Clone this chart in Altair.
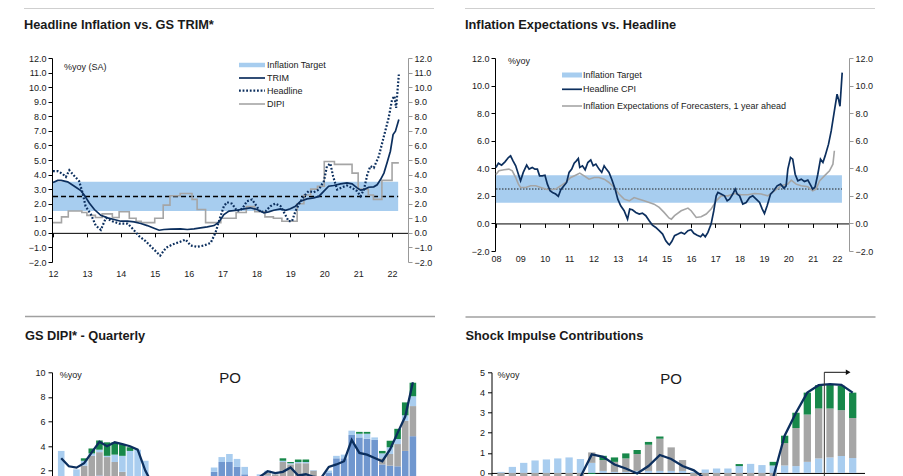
import altair as alt
import pandas as pd

# ---------------- colours / fonts ----------------
NAVY = "#0c2f5e"
BAND = "#a7cdef"
GRAYL = "#a5a5a5"
GREEN = "#17884a"
MIDBLUE = "#7097cf"
LBLUE = "#a9cdef"
BARGRAY = "#a6a6a6"
SEP = "#a0a0a0"
FONT = "Liberation Sans, Arial, sans-serif"
TFONT = "Liberation Sans, Arial, sans-serif"
TSIZE = 12.8

# ---------------- panel 1 data : Headline Inflation vs. GS TRIM* ----------------
trim_t = [2012.0, 2012.14, 2012.24, 2012.43, 2012.63, 2012.82, 2012.92,
          2013.07, 2013.22, 2013.41, 2013.61, 2013.8,
          2014.0, 2014.2, 2014.39, 2014.59, 2014.78, 2014.98,
          2015.13, 2015.27, 2015.47, 2015.76, 2015.96,
          2016.16, 2016.35, 2016.55, 2016.75, 2016.89,
          2017.04, 2017.19, 2017.43, 2017.63, 2017.82,
          2018.02, 2018.22, 2018.36, 2018.51, 2018.71, 2018.86,
          2019.0, 2019.15, 2019.3, 2019.49, 2019.69, 2019.84, 2019.99,
          2020.13, 2020.28, 2020.48, 2020.67, 2020.82, 2020.97,
          2021.07, 2021.17, 2021.31, 2021.46, 2021.56, 2021.66, 2021.76, 2021.85, 2021.95,
          2022.03, 2022.1, 2022.2]
trim_v = [3.45, 3.6, 3.6, 3.5, 3.2, 2.9, 2.6,
          2.05, 1.6, 1.2, 1.03, 0.92,
          0.8, 0.8, 0.75, 0.64, 0.5, 0.32,
          0.18, 0.23, 0.25, 0.27, 0.23,
          0.27, 0.34, 0.41, 0.5, 0.73,
          1.26, 1.49, 1.55, 1.65, 1.72,
          1.6, 1.37, 1.44, 1.55, 1.65, 1.55,
          1.65, 1.83, 2.17, 2.33, 2.4, 2.5, 2.86,
          3.2, 3.25, 3.36, 3.43, 3.36, 3.09,
          2.93, 2.97, 3.13, 3.16, 3.3, 3.66, 4.1, 4.8, 5.6,
          6.75, 6.98, 7.78]
hl_t = [2012.0, 2012.14, 2012.28, 2012.38, 2012.48, 2012.63, 2012.77, 2012.87, 2012.96,
        2013.12, 2013.26, 2013.41, 2013.56, 2013.75, 2013.95,
        2014.2, 2014.37, 2014.54, 2014.73, 2014.93,
        2015.16, 2015.33, 2015.52, 2015.72, 2015.91,
        2016.06, 2016.25, 2016.45, 2016.65, 2016.79, 2016.94,
        2017.04, 2017.13, 2017.28, 2017.43, 2017.58, 2017.72, 2017.87, 2017.97,
        2018.12, 2018.27, 2018.41, 2018.56, 2018.71, 2018.83, 2018.95,
        2019.05, 2019.15, 2019.25, 2019.4, 2019.54, 2019.69, 2019.84, 2019.99,
        2020.08, 2020.18, 2020.26, 2020.38, 2020.53, 2020.67, 2020.82, 2020.97,
        2021.07, 2021.17, 2021.27, 2021.36, 2021.46, 2021.61, 2021.76, 2021.9,
        2022.0, 2022.07, 2022.12, 2022.2]
hl_v = [4.23, 4.23, 4.05, 3.84, 4.3, 3.9, 3.55, 2.75, 1.83,
        1.26, 0.5, 0.2, 1.03, 0.8, 0.64,
        0.64, 0.23, -0.23, -0.57, -1.03,
        -1.56, -1.03, -0.8, -0.64, -0.46,
        -0.87, -0.96, -0.87, -0.69, 0.0, 1.14,
        1.83, 2.1, 2.0, 1.49, 1.65, 2.17, 2.29, 1.95,
        1.42, 1.49, 1.83, 2.01, 1.83, 1.33, 0.8,
        0.8, 1.49, 1.95, 2.52, 2.86, 2.79, 2.97, 3.55,
        4.58, 4.76, 3.89, 2.97, 3.13, 3.25, 3.09, 2.86,
        2.52, 2.97, 4.0, 4.58, 4.46, 5.26, 6.64, 7.9,
        9.15, 9.38, 8.58, 10.87]
dipi_t = [2012.0, 2012.25, 2012.45, 2012.85, 2013.0, 2013.25, 2013.45, 2013.75, 2013.95,
          2014.25, 2014.45, 2014.6, 2015.0, 2015.25, 2015.45, 2015.75,
          2016.1, 2016.25, 2016.5, 2016.95, 2017.4, 2017.7, 2017.95,
          2018.25, 2018.5, 2018.75, 2019.2, 2019.4, 2019.6, 2019.8,
          2020.0, 2020.3, 2020.82, 2021.0, 2021.3, 2021.45, 2021.7, 2022.0, 2022.2]
dipi_v = [0.7, 1.1, 1.5, 1.4, 1.2, 1.05, 1.3, 1.05, 1.45,
          1.0, 0.8, 0.7, 1.0, 1.9, 2.55, 2.7,
          2.3, 1.6, 0.7, 1.0, 1.4, 1.8, 1.45,
          1.1, 1.0, 0.8, 2.0, 2.6, 3.0, 3.2,
          4.9, 4.7, 4.1, 3.0, 2.6, 2.3, 3.6, 4.8, 4.8]
p1_years = list(range(2012, 2023))
p1_legend = ["Inflation Target", "TRIM", "Headline", "DIPI"]

# ---------------- panel 2 data : Inflation Expectations vs. Headline ----------------
cpi_t = [2008.0, 2008.10, 2008.23, 2008.37, 2008.51, 2008.60, 2008.70, 2008.81, 2008.92,
         2009.01, 2009.12, 2009.26, 2009.36, 2009.49, 2009.60, 2009.70, 2009.79, 2009.90,
         2010.01, 2010.11, 2010.22, 2010.32, 2010.45, 2010.56, 2010.66, 2010.79, 2010.90,
         2011.00, 2011.11, 2011.21, 2011.30, 2011.38, 2011.44, 2011.55, 2011.66, 2011.77, 2011.89, 2011.99,
         2012.10, 2012.23, 2012.34, 2012.44, 2012.53, 2012.64, 2012.75, 2012.89,
         2013.00, 2013.12, 2013.26, 2013.40, 2013.49, 2013.60, 2013.74, 2013.88,
         2014.01, 2014.15, 2014.29, 2014.42, 2014.56, 2014.70, 2014.84, 2014.97,
         2015.08, 2015.12, 2015.22, 2015.33, 2015.47, 2015.60, 2015.74, 2015.88,
         2016.01, 2016.12, 2016.26, 2016.40, 2016.49, 2016.59, 2016.70, 2016.83, 2016.94,
         2017.04, 2017.11, 2017.24, 2017.38, 2017.49, 2017.59, 2017.72, 2017.82, 2017.90,
         2018.00, 2018.13, 2018.27, 2018.41, 2018.54, 2018.68, 2018.82, 2018.93,
         2019.02, 2019.13, 2019.27, 2019.40, 2019.54, 2019.68, 2019.82, 2019.91, 2019.98,
         2020.09, 2020.18, 2020.28, 2020.39, 2020.53, 2020.66, 2020.80, 2020.91,
         2021.00, 2021.10, 2021.21, 2021.32, 2021.42, 2021.51, 2021.65, 2021.76, 2021.89,
         2022.00, 2022.06, 2022.12, 2022.21]
cpi_v = [4.06, 4.37, 4.23, 4.47, 4.78, 4.9, 4.54, 4.18, 3.57,
         3.09, 3.7, 4.23, 3.94, 4.06, 3.94, 3.94, 3.45, 3.45,
         3.5, 2.85, 2.37, 2.25, 2.13, 1.96, 2.44, 2.73, 2.97,
         3.7, 3.94, 4.37, 4.54, 4.71, 4.06, 4.18, 3.89, 4.42, 4.61, 4.18,
         4.3, 3.94, 3.7, 4.18, 3.94, 3.7, 3.21, 2.49,
         1.76, 1.28, 0.92, 0.31, 1.04, 0.99, 0.8, 0.68,
         0.75, 0.56, 0.19, -0.12, -0.29, -0.53, -0.77, -1.26,
         -1.5, -1.55, -1.3, -0.89, -0.77, -0.65, -0.77, -0.53,
         -0.46, -0.72, -0.85, -0.97, -0.77, -0.97, -0.65, -0.05, 0.92,
         2.0, 2.25, 2.13, 2.0, 1.64, 1.76, 2.13, 2.49, 2.13,
         2.0, 1.4, 1.52, 1.88, 2.0, 1.76, 1.52, 1.04,
         0.72, 1.28, 2.13, 2.37, 2.73, 2.85, 2.56, 2.73, 3.94,
         4.78, 4.66, 3.57, 3.09, 3.21, 3.04, 3.14, 2.8,
         2.49, 2.66, 3.57, 4.66, 4.42, 4.9, 5.75, 6.71, 8.16,
         9.37, 9.0, 8.5, 10.94]
exp_t = [2008.0, 2008.12, 2008.33, 2008.53, 2008.67, 2008.81, 2008.92,
         2009.01, 2009.22, 2009.42, 2009.63, 2009.84,
         2010.04, 2010.25, 2010.45, 2010.66, 2010.86,
         2011.07, 2011.27, 2011.44, 2011.62, 2011.82,
         2012.03, 2012.23, 2012.44, 2012.64, 2012.85,
         2013.05, 2013.26, 2013.47, 2013.67, 2013.88,
         2014.08, 2014.29, 2014.49, 2014.70, 2014.90,
         2015.10, 2015.20, 2015.33, 2015.60, 2015.88,
         2016.01, 2016.22, 2016.42, 2016.63, 2016.83,
         2017.04, 2017.24, 2017.52, 2017.79,
         2018.06, 2018.34, 2018.61, 2018.89,
         2019.16, 2019.43, 2019.71, 2019.98,
         2020.12, 2020.32, 2020.53, 2020.80,
         2021.00, 2021.14, 2021.28, 2021.48, 2021.69, 2021.83, 2021.89]
exp_v = [3.55, 3.82, 3.89, 3.94, 3.82, 3.33, 2.85,
         2.61, 2.61, 2.73, 2.73, 2.61,
         2.49, 2.44, 2.49, 2.73, 2.97,
         3.33, 3.5, 3.65, 3.45, 3.21,
         3.33, 3.33, 3.21, 2.97, 2.61,
         2.13, 1.76, 1.64, 1.88, 1.76,
         1.64, 1.52, 1.4, 1.16, 0.8,
         0.4, 0.31, 0.56, 0.92, 1.11,
         0.92, 0.43, 0.48, 0.68, 1.04,
         1.64, 2.0, 2.0, 2.17,
         2.08, 2.08, 2.17, 2.13,
         2.0, 2.37, 2.73, 2.85,
         3.14, 2.85, 2.73, 2.66,
         2.37, 2.49, 3.09, 3.45, 3.82, 4.3, 5.27]
p2_years = list(range(2008, 2023))
p2_legend = ["Inflation Target", "Headline CPI", "Inflation Expectations of Forecasters, 1 year ahead"]

# ---------------- panel 3 data : GS DIPI* - Quarterly (47 quarters) ----------------
blue3 = [0.3, 0.3, 0.5, 0.8, 1.0, 1.6, 1.5, 1.3, 1.0, 0.5,
         0.3, 0.2, 0.2, 0.1, 0.0, 0.2, 0.3, 0.4, 0.6, 0.8,
         1.9, 2.7, 2.7, 2.3, 1.7, 1.0, 1.2, 1.6, 1.4, 1.4,
         1.3, 1.3, 1.3, 1.2, 1.0, 1.8, 3.0, 3.0, 4.9, 4.7,
         4.6, 4.5, 2.5, 2.4, 2.35, 3.6, 4.8]
gray3 = [0.0, 0.2, 0.5, 1.6, 2.2, 1.9, 1.6, 1.4, 0.9, 0.5,
         0.2, 0.0, 0.0, 0.0, 0.0, 0.0, 0.0, 0.0, 0.0, 0.0,
         0.0, 0.0, 0.0, 0.0, 0.0, 0.0, 0.2, 0.2, 0.3, 1.3,
         1.2, 1.3, 1.3, 0.8, 0.3, 0.0, 0.0, 0.0, 0.0, 0.0,
         0.0, 0.0, 0.5, 0.95, 1.81, 2.45, 2.45]
lb3 = [3.3, 1.0, 1.1, 0.4, 0.2, 0.2, 0.1, 0.6, 1.3, 2.6,
       3.2, 2.6, 1.2, 0.8, 0.5, 0.4, 0.5, 0.6, 0.7, 0.7,
       0.35, 0.4, 0.65, 0.65, 0.6, 0.4, 0.3, 0.2, 0.1, 0.1,
       0.1, 0.1, 0.1, 0.05, 0.1, 0.2, 0.2, 0.3, 0.35, 0.3,
       0.4, 0.2, 0.4, 0.55, 0.41, 0.45, 0.8]
green3 = [0.0, 0.0, 0.0, 0.2, 0.4, 0.75, 1.1, 1.0, 0.95, 0.3,
          0.0, 0.0, 0.0, 0.0, 0.0, 0.0, 0.0, 0.0, 0.0, 0.0,
          0.0, 0.0, 0.0, 0.0, 0.0, 0.0, 0.0, 0.0, 0.0, 0.2,
          0.1, 0.2, 0.2, 0.0, 0.0, 0.0, 0.0, 0.0, 0.0, 0.15,
          0.15, 0.0, 0.2, 0.53, 0.83, 1.05, 1.1]
line3 = [3.0, 2.35, 2.24, 2.6, 3.48, 4.35, 3.98, 4.3, 4.16, 3.98,
         3.7, 2.0, 0.8, 0.3, 0.0, -0.2, 0.2, 0.5, 0.8, 1.0,
         1.2, 1.3, 1.2, 1.0, 0.9, 1.1, 1.5, 1.95, 1.8, 1.9,
         2.26, 1.6, 1.7, 1.5, 1.4, 2.3, 2.5, 2.76, 4.5, 3.44,
         3.3, 3.03, 2.76, 3.7, 5.07, 6.4, 9.2]
p3_ticks = [2, 4, 6, 8, 10]

# ---------------- panel 4 data : Shock Impulse Contributions (32 quarters) ----------------
lb4 = [0.05, 0.3, 0.5, 0.62, 0.67, 0.72, 0.77, 0.69, 0.5, 0.1,
       0.05, 0.05, 0.1, 0.1, 0.1, 0.1, 0.1, 0.05, 0.17, 0.22,
       0.22, 0.34, 0.45, 0.39, 0.37, 0.37, 0.34, 0.55, 0.72, 0.77,
       0.84, 0.74]
gray4 = [-1.6, -1.8, -2.0, -2.0, -1.9, -1.7, -1.4, -1.0, 0.52, 0.54,
         0.5, 0.67, 0.84, 1.3, 1.6, 1.17, 0.54, -0.5, -0.8, -1.0,
         -1.1, -1.0, -0.9, -0.7, -0.5, 1.11, 1.89, 2.35, 2.48, 2.43,
         2.28, 1.99]
green4 = [0.0, 0.0, 0.0, 0.0, 0.0, 0.0, 0.0, 0.0, -0.05, 0.21,
          0.22, 0.25, 0.2, 0.14, 0.11, 0.0, 0.0, -0.13, 0.0, 0.0,
          0.0, 0.1, 0.0, 0.0, 0.18, 0.37, 0.76, 1.09, 1.16, 1.21,
          1.21, 1.26]
line4 = [-1.5, -1.5, -1.5, -1.4, -1.2, -1.0, -0.6, -0.2, 0.92, 0.8,
         0.42, 0.22, -0.03, 0.34, 0.89, 0.69, 0.34, 0.13, -0.3, -0.6,
         -0.8, -0.7, -0.6, -0.45, -0.2, 1.85, 2.99, 3.99, 4.36, 4.41,
         4.38, 3.99]
p4_ticks = [0, 1, 2, 3, 4, 5]
forecast_start = 28.5

# ---------------- helpers ----------------
def one(label="x"):
    return pd.DataFrame({"label": [label]})


def text_at(txt, px, py, size=9, bold=False, font=FONT, baseline="middle"):
    return alt.Chart(one(txt)).mark_text(
        align="left", baseline=baseline, fontSize=size, font=font,
        fontWeight="bold" if bold else "normal", color="#1a1a1a"
    ).encode(x=alt.value(px), y=alt.value(py), text="label:N")


def hrule(px0, px1, py, color, width, dash=None, opacity=1.0):
    kw = dict(color=color, strokeWidth=width, opacity=opacity)
    if dash:
        kw["strokeDash"] = dash
    return alt.Chart(one()).mark_rule(**kw).encode(
        x=alt.value(px0), x2=alt.value(px1), y=alt.value(py))


def ax_common(**kw):
    base = dict(title=None, grid=False, labelFont=FONT, labelFontSize=9, labelColor="#1a1a1a",
                tickSize=4, labelOverlap=False)
    base.update(kw)
    return alt.Axis(**base)


# ================= PANEL 1 =================
W1, H1 = 356, 204
ys1 = alt.Scale(domain=[-2, 12], nice=False, zero=False)
xs1 = alt.Scale(domain=[2011.97, 2022.47], nice=False, zero=False)
z1 = H1 * 2 / 14
xax1 = ax_common(values=p1_years, labelExpr="slice(toString(datum.value), 2)", offset=-z1,
                 labelPadding=z1 + 3.5, domainColor="black", tickColor="black", labelFlush=False)
yax1L = ax_common(values=list(range(-2, 13)), format=".1f", domainColor="black", tickColor="black",
                  labelPadding=2)
yax1R = ax_common(values=list(range(-2, 13)), format=".1f", orient="right", domainColor="#999999",
                  tickColor="#999999", labelPadding=2)

band1 = pd.DataFrame({"x0": [2012.0], "x1": [2022.18], "lo": [1.5], "hi": [3.5], "tgt": [2.5]})
df_trim = pd.DataFrame({"t": trim_t, "v": trim_v})
df_hl = pd.DataFrame({"t": hl_t, "v": hl_v})
df_dipi = pd.DataFrame({"t": dipi_t, "v": dipi_v})

X1 = lambda f: alt.X(f"{f}:Q", scale=xs1, axis=xax1)
Y1 = lambda f: alt.Y(f"{f}:Q", scale=ys1, axis=yax1L)

p1_band = alt.Chart(band1).mark_rect(color=BAND).encode(x=X1("x0"), x2="x1", y=Y1("lo"), y2="hi")
p1_tgt = alt.Chart(band1).mark_rule(color="black", strokeDash=[5, 3], strokeWidth=1.6).encode(
    x=X1("x0"), x2="x1", y=Y1("tgt"))
p1_dipi = alt.Chart(df_dipi).mark_line(color=GRAYL, strokeWidth=1.6, interpolate="step-after").encode(
    x=X1("t"), y=Y1("v"))
p1_trim = alt.Chart(df_trim).mark_line(color=NAVY, strokeWidth=1.7).encode(x=X1("t"), y=Y1("v"))
p1_hl = alt.Chart(df_hl).mark_line(color=NAVY, strokeWidth=2.2, strokeDash=[1.8, 1.8]).encode(
    x=X1("t"), y=Y1("v"))

L1x0, L1x1, L1tx = 187, 213, 215
L1y = [7, 20, 32.7, 46]
p1_leg = [
    hrule(L1x0, L1x1, L1y[0], BAND, 4.5), text_at(p1_legend[0], L1tx, L1y[0]),
    hrule(L1x0, L1x1, L1y[1], NAVY, 1.7), text_at(p1_legend[1], L1tx, L1y[1]),
    hrule(L1x0, L1x1, L1y[2], NAVY, 2.2, dash=[1.8, 1.8]), text_at(p1_legend[2], L1tx, L1y[2]),
    hrule(L1x0, L1x1, L1y[3], GRAYL, 1.6), text_at(p1_legend[3], L1tx, L1y[3]),
]
p1_deco = [
    hrule(-28, 382, -50.25, SEP, 1.5),
    text_at("Headline Inflation vs. GS TRIM*", -28, -29.5, size=TSIZE, bold=True, font=TFONT,
            baseline="alphabetic"),
    text_at("%yoy (SA)", 12, 8.7),
]
p1_inner = alt.layer(p1_band, p1_tgt, p1_dipi, p1_trim, p1_hl, *p1_leg, *p1_deco)
p1_right = alt.Chart(band1).mark_rule(opacity=0).encode(
    y=alt.Y("tgt:Q", scale=ys1, axis=yax1R))
panel1 = alt.layer(p1_inner, p1_right).resolve_scale(y="independent").properties(width=W1, height=H1)

# ================= PANEL 2 =================
W2, H2 = 354, 193
ys2 = alt.Scale(domain=[-2, 12], nice=False, zero=False)
xs2 = alt.Scale(domain=[2007.96, 2022.49], nice=False, zero=False)
z2 = H2 * 2 / 14
xax2 = ax_common(values=p2_years, labelExpr="slice(toString(datum.value), 2)", offset=-z2,
                 labelPadding=z2 - 1, domainColor="black", tickColor="black", labelFlush=False)
yax2L = ax_common(values=list(range(-2, 13, 2)), format=".1f", domainColor="black", tickColor="black",
                  labelPadding=2)
yax2R = ax_common(values=list(range(-2, 13, 2)), format=".1f", orient="right", domainColor="#999999",
                  tickColor="#999999", labelPadding=2)

band2 = pd.DataFrame({"x0": [2008.0], "x1": [2022.2], "lo": [1.5], "hi": [3.5], "tgt": [2.5]})
df_cpi = pd.DataFrame({"t": cpi_t, "v": cpi_v})
df_exp = pd.DataFrame({"t": exp_t, "v": exp_v})
X2 = lambda f: alt.X(f"{f}:Q", scale=xs2, axis=xax2)
Y2 = lambda f: alt.Y(f"{f}:Q", scale=ys2, axis=yax2L)

p2_band = alt.Chart(band2).mark_rect(color=BAND).encode(x=X2("x0"), x2="x1", y=Y2("lo"), y2="hi")
p2_tgt = alt.Chart(band2).mark_rule(color="#222222", strokeDash=[1.5, 1.5], strokeWidth=1.1).encode(
    x=X2("x0"), x2="x1", y=Y2("tgt"))
p2_exp = alt.Chart(df_exp).mark_line(color=GRAYL, strokeWidth=1.6).encode(x=X2("t"), y=Y2("v"))
p2_cpi = alt.Chart(df_cpi).mark_line(color=NAVY, strokeWidth=1.7).encode(x=X2("t"), y=Y2("v"))

L2x0, L2x1, L2tx = 67, 87, 88
L2y = [17, 31.3, 48]
p2_leg = [
    hrule(L2x0, L2x1, L2y[0], BAND, 5), text_at(p2_legend[0], L2tx, L2y[0]),
    hrule(L2x0, L2x1, L2y[1], NAVY, 1.7), text_at(p2_legend[1], L2tx, L2y[1]),
    hrule(L2x0, L2x1, L2y[2], GRAYL, 1.6), text_at(p2_legend[2], L2tx, L2y[2]),
]
p2_deco = [
    hrule(-30, 380, -50.25, SEP, 1.5),
    text_at("Inflation Expectations vs. Headline", -30, -29.5, size=TSIZE, bold=True, font=TFONT,
            baseline="alphabetic"),
    text_at("%yoy", 13, 2.7),
]
p2_inner = alt.layer(p2_band, p2_tgt, p2_exp, p2_cpi, *p2_leg, *p2_deco)
p2_right = alt.Chart(band2).mark_rule(opacity=0).encode(y=alt.Y("tgt:Q", scale=ys2, axis=yax2R))
panel2 = alt.layer(p2_inner, p2_right).resolve_scale(y="independent").properties(width=W2, height=H2)

# ================= PANEL 3 =================
W3, H3 = 372, 172
ys3 = alt.Scale(domain=[-4, 10], nice=False, zero=False)
xs3 = alt.Scale(domain=[-0.55, 46.8], nice=False, zero=False)
z3 = H3 * 4 / 14
xax3 = ax_common(offset=-z3, ticks=False, labels=False, domainColor="black")
yax3 = ax_common(values=p3_ticks, format="d", domainColor="black", tickColor="black",
                 labelPadding=3)
comps3 = ["Mid", "Gray", "Light", "Green"]
rows3 = []
for i in range(len(line3)):
    for k, arr in enumerate([blue3, gray3, lb3, green3]):
        rows3.append({"i": i, "comp": comps3[k], "val": arr[i], "k": k})
df3 = pd.DataFrame(rows3)
df3_line = pd.DataFrame({"i": list(range(len(line3))), "v": line3})
X3 = lambda f: alt.X(f"{f}:Q", scale=xs3, axis=xax3)
Y3 = lambda f: alt.Y(f"{f}:Q", scale=ys3, axis=yax3)
p3_bars = alt.Chart(df3).mark_bar(size=6.6).encode(
    x=X3("i"), y=alt.Y("val:Q", scale=ys3, axis=yax3, stack="zero"),
    color=alt.Color("comp:N", scale=alt.Scale(domain=comps3, range=[MIDBLUE, BARGRAY, LBLUE, GREEN]),
                    legend=None),
    order=alt.Order("k:Q"))
p3_line = alt.Chart(df3_line).mark_line(color=NAVY, strokeWidth=2.3).encode(x=X3("i"), y=Y3("v"))
p3_po = alt.Chart(pd.DataFrame({"i": [22.1], "v": [9.5], "label": ["PO"]})).mark_text(
    fontSize=15, font=FONT, color="#1a1a1a").encode(x=X3("i"), y=Y3("v"), text="label:N")
p3_deco = [
    hrule(-27, 383, -55.7, SEP, 1.5),
    text_at("GS DIPI* - Quarterly", -27, -32.3, size=TSIZE, bold=True, font=TFONT, baseline="alphabetic"),
    text_at("%yoy", 7.7, 2.3),
]
panel3 = alt.layer(p3_bars, p3_line, p3_po, *p3_deco).properties(width=W3, height=H3)

# ================= PANEL 4 =================
W4, H4 = 373, 161
ys4 = alt.Scale(domain=[-3, 5], nice=False, zero=False)
xs4 = alt.Scale(domain=[-0.4, 31.6], nice=False, zero=False)
z4 = H4 * 3 / 8
xax4 = ax_common(offset=-z4, ticks=False, labels=False, domainColor="black")
yax4 = ax_common(values=p4_ticks, format="d", domainColor="black", tickColor="black",
                 labelPadding=3)
comps4 = ["Light", "Gray", "Green"]
rows4 = []
for i in range(len(line4)):
    for k, arr in enumerate([lb4, gray4, green4]):
        rows4.append({"i": i, "comp": comps4[k], "val": arr[i], "k": k})
df4 = pd.DataFrame(rows4)
df4_line = pd.DataFrame({"i": list(range(len(line4))), "v": line4})
X4 = lambda f: alt.X(f"{f}:Q", scale=xs4, axis=xax4)
Y4 = lambda f: alt.Y(f"{f}:Q", scale=ys4, axis=yax4)
p4_bars = alt.Chart(df4).mark_bar(size=7.3).encode(
    x=X4("i"), y=alt.Y("val:Q", scale=ys4, axis=yax4, stack="zero"),
    color=alt.Color("comp:N", scale=alt.Scale(domain=comps4, range=[LBLUE, BARGRAY, GREEN]), legend=None),
    order=alt.Order("k:Q"))
p4_line = alt.Chart(df4_line).mark_line(color=NAVY, strokeWidth=2.3).encode(x=X4("i"), y=Y4("v"))
fc = pd.DataFrame({"fx": [forecast_start], "fx2": [forecast_start + 2.0], "ya": [-3.0], "yb": [5.0],
                   "ax": [forecast_start + 2.1]})
p4_vline = alt.Chart(fc).mark_rule(color="#333333", strokeWidth=1).encode(x=X4("fx"), y=Y4("ya"), y2="yb")
p4_arrow = alt.Chart(fc).mark_rule(color="#111111", strokeWidth=1).encode(x=X4("fx"), x2="fx2", y=Y4("yb"))
p4_head = alt.Chart(fc).mark_point(shape="triangle-right", filled=True, size=30, color="#111111",
                                   opacity=1).encode(x=X4("ax"), y=Y4("yb"))
p4_po = alt.Chart(pd.DataFrame({"i": [15.0], "v": [4.65], "label": ["PO"]})).mark_text(
    fontSize=15, font=FONT, color="#1a1a1a").encode(x=X4("i"), y=Y4("v"), text="label:N")
p4_deco = [
    hrule(-26, 384, -55.2, SEP, 1.5),
    text_at("Shock Impulse Contributions", -26, -32, size=TSIZE, bold=True, font=TFONT, baseline="alphabetic"),
    text_at("%yoy", 6, 2.8),
]
panel4 = alt.layer(p4_bars, p4_line, p4_vline, p4_arrow, p4_head, p4_po, *p4_deco).properties(
    width=W4, height=H4)

# ================= layout =================
top = alt.hconcat(panel1, panel2, spacing=27)
bottom = alt.hconcat(panel3, panel4, spacing=26.5)
chart = alt.vconcat(top, bottom, spacing=36.3).properties(
    padding={"left": 14, "top": -2, "right": 5, "bottom": 5}
).configure_view(stroke="transparent")

chart.save("out.html", embed_options={"renderer": "svg", "actions": False})
